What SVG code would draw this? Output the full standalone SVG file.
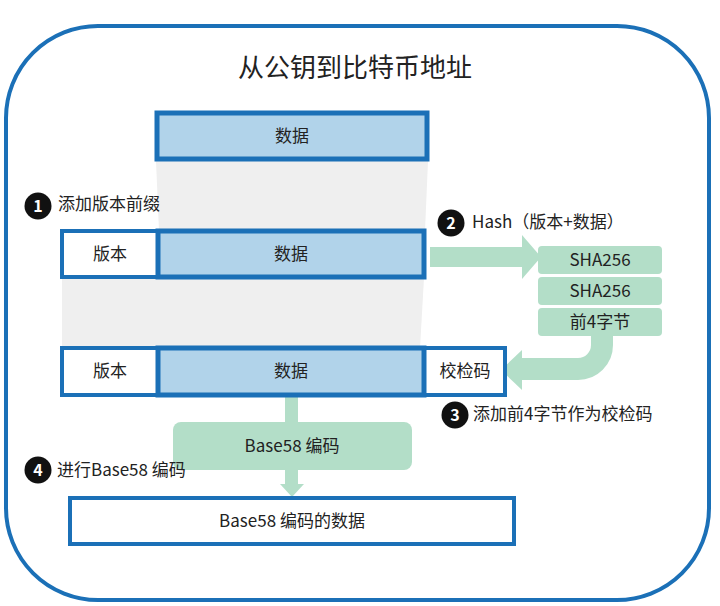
<svg xmlns="http://www.w3.org/2000/svg" width="720" height="606" viewBox="0 0 720 606">
<style>
text{font-family:"Noto Sans CJK SC","Noto Sans",sans-serif;fill:#222;}
.t{font-size:17px;text-anchor:middle;}
.lbl{font-size:17px;}
.num{font-size:16px;font-weight:bold;fill:#fff;text-anchor:middle;}
.blue{fill:#b1d3ea;stroke:#1b70b7;stroke-width:5;}
.white{fill:#fff;stroke:#1b70b7;stroke-width:4;}
.green{fill:#b3dec8;}
.gray{fill:#efefef;}
</style>
<rect x="6" y="26" width="703" height="574" rx="92" fill="#fff" stroke="#1b70b7" stroke-width="4"/>
<text x="355" y="77" font-size="26" text-anchor="middle">从公钥到比特币地址</text>
<g id="funnel">
<polygon class="gray" points="156,161 428,161 425,231 159,231"/>
<polygon class="gray" points="62,278 424,278 420,348 62,348"/>
</g>
<g id="connectors">
<rect class="green" x="430" y="247" width="93" height="20"/>
<polygon class="green" points="522,235 541,257 522,279"/>
<path d="M602,334 L602,345 A24,24 0 0 1 578,369 L520,369" fill="none" stroke="#b3dec8" stroke-width="22"/>
<polygon class="green" points="522,350 501,370 522,390"/>
<rect class="green" x="285" y="396" width="13" height="28"/>
<rect class="green" x="285" y="468" width="13" height="17"/>
<polygon class="green" points="280,484 304,484 292,497"/>
</g>
<g id="data-top">
<rect class="blue" x="157" y="113" width="270" height="46"/>
<text class="t" x="292" y="142">数据</text>
</g>
<g id="row2">
<rect class="white" x="62" y="231" width="96" height="46"/>
<text class="t" x="110" y="260">版本</text>
<rect class="blue" x="158" y="231" width="266" height="46"/>
<text class="t" x="291" y="260">数据</text>
</g>
<g id="row3">
<rect class="white" x="62" y="348" width="443" height="47"/>
<text class="t" x="110" y="377">版本</text>
<rect class="blue" x="158" y="348" width="266" height="47"/>
<text class="t" x="291" y="377">数据</text>
<text class="t" x="465" y="377">校检码</text>
</g>
<g id="hash">
<rect class="green" x="538" y="246" width="124" height="28" rx="4"/>
<text class="t" x="600" y="266">SHA256</text>
<rect class="green" x="538" y="277" width="124" height="28" rx="4"/>
<text class="t" x="600" y="297">SHA256</text>
<rect class="green" x="538" y="308" width="124" height="28" rx="4"/>
<text class="t" x="600" y="328">前4字节</text>
</g>
<g id="base58">
<rect class="green" x="173" y="422" width="239" height="48" rx="8"/>
<text class="t" x="292" y="452">Base58 编码</text>
</g>
<g id="result">
<rect class="white" x="70" y="498" width="444" height="46"/>
<text class="t" x="292" y="527">Base58 编码的数据</text>
</g>
<g id="step1">
<circle cx="38" cy="206" r="13.5" fill="#111"/>
<text class="num" x="38" y="212">1</text>
<text class="lbl" x="58" y="210">添加版本前缀</text>
</g>
<g id="step2">
<circle cx="451" cy="223" r="13.5" fill="#111"/>
<text class="num" x="451" y="229">2</text>
<text class="lbl" x="472" y="228">Hash（版本+数据）</text>
</g>
<g id="step3">
<circle cx="455" cy="415" r="13.5" fill="#111"/>
<text class="num" x="455" y="421">3</text>
<text class="lbl" x="473" y="420">添加前4字节作为校检码</text>
</g>
<g id="step4">
<circle cx="38" cy="470" r="13.5" fill="#111"/>
<text class="num" x="38" y="476">4</text>
<text class="lbl" x="57" y="476">进行Base58 编码</text>
</g>
</svg>
